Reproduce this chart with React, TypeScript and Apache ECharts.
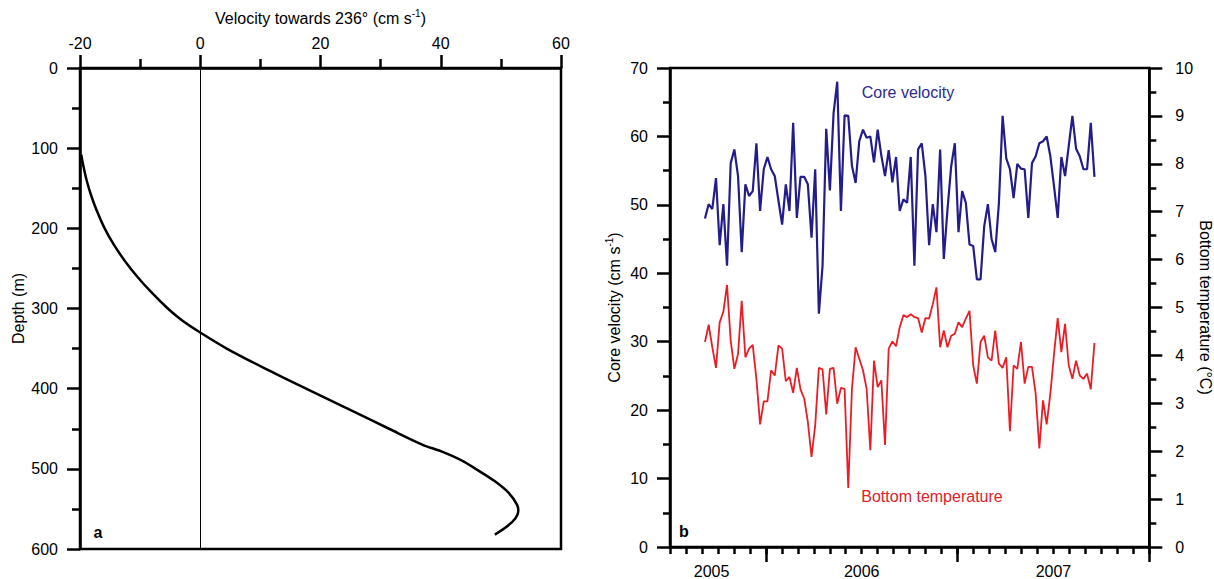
import React, { useEffect, useRef } from "react";
import * as echarts from "echarts";

// ---------- Panel a: velocity profile ----------
const profileDepth = [108, 120, 140, 160, 180, 200, 220, 240, 260, 280, 300, 315, 330, 350, 375, 400, 425, 450, 470, 478, 490, 500, 515, 530, 545, 553, 562, 572, 582];
const profileVelocity = [-19.8, -19.5, -18.9, -18.1, -17.1, -15.9, -14.4, -12.6, -10.5, -8.1, -5.4, -3.0, 0.0, 4.4, 10.8, 17.6, 24.5, 31.4, 37.0, 40.0, 43.6, 45.8, 48.9, 51.3, 52.7, 52.9, 52.4, 51.0, 49.0];

// ---------- Panel b: weekly time series ----------
const firstWeek = [2005, 8, 7]; // 7 Sep 2005 (month index 0-based)
const coreVelocity = [
  48.0, 50.1, 49.4, 53.9, 44.1, 50.1, 41.1, 56.1, 58.1, 54.2,
  43.1, 53.0, 51.3, 52.0, 59.0, 49.1, 55.2, 57.0, 55.2, 54.2,
  50.6, 47.1, 53.0, 49.1, 62.0, 48.1, 54.1, 54.1, 53.0, 45.2,
  55.2, 34.1, 41.1, 61.1, 52.1, 63.4, 68.0, 49.1, 63.1, 63.0,
  55.7, 53.2, 59.3, 61.0, 59.8, 60.0, 56.2, 61.0, 57.2, 54.2,
  58.0, 53.3, 57.0, 49.1, 50.8, 50.3,
  57.0, 41.1, 58.1, 59.0, 54.2, 44.1, 50.1, 46.0, 58.1, 42.1,
  49.3, 55.6, 59.0, 46.0, 52.0, 50.3, 44.2, 44.0, 39.1, 39.1,
  46.9, 50.1, 45.0, 43.1, 50.3, 63.0, 56.8, 55.2, 51.0, 56.0,
  55.3, 55.2, 48.1, 56.1, 57.1, 59.0, 59.3, 60.0, 57.1, 52.7,
  48.1, 57.0, 54.2, 58.6, 63.0, 58.2, 57.1, 55.2, 55.2, 62.0, 54.1,
];
const bottomTemperature = [
  4.28, 4.64, 4.17, 3.74, 4.69, 4.91, 5.47, 4.31, 3.72, 4.03,
  5.14, 3.96, 4.14, 4.22, 3.51, 2.56, 3.04, 3.04, 3.69, 3.58,
  4.21, 4.14, 3.46, 3.55, 3.22, 3.74, 3.29, 3.10, 2.61, 1.88,
  2.54, 3.74, 3.71, 2.77, 3.72, 3.74, 2.99, 3.32, 3.30, 1.23,
  3.30, 4.17, 3.93, 3.69, 3.30, 2.02, 3.89, 3.34, 3.48, 2.13,
  4.14, 4.29, 4.19, 4.59, 4.84, 4.80,
  4.86, 4.80, 4.78, 4.48, 4.78, 4.77, 5.07, 5.42, 4.17, 4.52,
  4.17, 4.41, 4.45, 4.69, 4.59, 4.77, 4.93, 3.79, 3.41, 4.28,
  4.41, 3.96, 3.89, 4.52, 3.83, 3.74, 3.96, 2.42, 3.79, 3.72,
  4.28, 3.41, 3.76, 3.76, 3.20, 2.06, 3.06, 2.56, 3.20, 4.03,
  4.78, 4.07, 4.66, 3.79, 3.51, 3.89, 3.58, 3.51, 3.62, 3.29, 4.26,
];
// time axis expressed in months relative to 1 Jan 2006
const axisStartMonth = -6; // 1 Jul 2005
const axisEndMonth = 24; // 1 Jan 2008
const yearBoundaryMonths = [0, 12, 24];
const yearLabels = ["2005", "2006", "2007"];
const yearLabelMonths = [-3.4, 6, 18];

const FONT = "'Liberation Sans', Arial, Helvetica, sans-serif";
const NAVY = "#231d8c";
const RED = "#ec1c24";

export default function App() {
  const ref = useRef<HTMLDivElement>(null);

  useEffect(() => {
    if (!ref.current) return;
    const chart = echarts.init(ref.current, undefined, { renderer: "svg" });

    const DAY = 86400000;
    const MONTH = (365.25 / 12) * DAY;
    const ref2006 = Date.UTC(2006, 0, 1);
    const t0 = Date.UTC(firstWeek[0], firstWeek[1], firstWeek[2]);
    const weekX = coreVelocity.map((_, i) => (t0 + i * 7 * DAY - ref2006) / MONTH);

    const velData = coreVelocity.map((v, i) => [weekX[i], v]);
    const tempData = bottomTemperature.map((v, i) => [weekX[i], v]);
    const profileData = profileDepth.map((d, i) => [profileVelocity[i], d]);

    const axisLine = { show: true, onZero: false, lineStyle: { color: "#000", width: 2.5 } };
    const tickStyle = { color: "#000", width: 2.5 };
    const label = { color: "#000", fontSize: 16, fontFamily: FONT };
    const supRich = {
      sup: { fontSize: 10, fontFamily: FONT, color: "#000", verticalAlign: "top", lineHeight: 10 },
    };

    const option: any = {
      animation: false,
      backgroundColor: "#fff",
      grid: [
        { left: 80, top: 68, width: 481, height: 481, show: true, borderColor: "#000", borderWidth: 2.5, backgroundColor: "transparent" },
        { left: 670, top: 68, width: 480, height: 481, show: true, borderColor: "#000", borderWidth: 2.5, backgroundColor: "transparent" },
      ],
      xAxis: [
        {
          gridIndex: 0,
          type: "value",
          position: "top",
          min: -20,
          max: 60,
          interval: 20,
          axisLine,
          axisTick: { show: true, length: 13, lineStyle: tickStyle },
          minorTick: { show: true, splitNumber: 2, length: 9, lineStyle: tickStyle },
          splitLine: { show: false },
          minorSplitLine: { show: false },
          axisLabel: { ...label, margin: 17 },
          name: "Velocity towards 236° (cm s{sup|-1})",
          nameLocation: "middle",
          nameGap: 40,
          nameTextStyle: { ...label, lineHeight: 20, rich: supRich },
        },
        {
          gridIndex: 1,
          type: "value",
          position: "bottom",
          min: axisStartMonth,
          max: axisEndMonth,
          interval: 1,
          axisLine,
          axisTick: { show: true, length: 7, lineStyle: tickStyle },
          splitLine: { show: false },
          axisLabel: {
            ...label,
            margin: 16,
            customValues: yearLabelMonths,
            formatter: (v: number) => {
              const k = yearLabelMonths.findIndex((m) => Math.abs(m - v) < 1e-6);
              return k >= 0 ? yearLabels[k] : "";
            },
          },
        },
        {
          gridIndex: 1,
          type: "value",
          position: "bottom",
          min: axisStartMonth,
          max: axisEndMonth,
          axisLine: { show: false, onZero: false },
          axisTick: { show: true, length: 15, lineStyle: tickStyle, customValues: yearBoundaryMonths },
          axisLabel: { show: false },
          splitLine: { show: false },
        },
      ],
      yAxis: [
        {
          gridIndex: 0,
          type: "value",
          inverse: true,
          min: 0,
          max: 600,
          interval: 100,
          axisLine,
          axisTick: { show: true, length: 13, lineStyle: tickStyle },
          minorTick: { show: true, splitNumber: 2, length: 8, lineStyle: tickStyle },
          splitLine: { show: false },
          minorSplitLine: { show: false },
          axisLabel: { ...label, margin: 22 },
          name: "Depth (m)",
          nameLocation: "middle",
          nameGap: 54,
          nameRotate: 90,
          nameTextStyle: { ...label },
        },
        {
          gridIndex: 1,
          type: "value",
          position: "left",
          min: 0,
          max: 70,
          interval: 10,
          axisLine,
          axisTick: { show: true, length: 13, lineStyle: tickStyle },
          minorTick: { show: true, splitNumber: 2, length: 7, lineStyle: tickStyle },
          splitLine: { show: false },
          minorSplitLine: { show: false },
          axisLabel: { ...label, margin: 22 },
          name: "Core velocity (cm s{sup|-1})",
          nameLocation: "middle",
          nameGap: 46,
          nameRotate: 90,
          nameTextStyle: { ...label, lineHeight: 20, rich: supRich },
        },
        {
          gridIndex: 1,
          type: "value",
          position: "right",
          min: 0,
          max: 10,
          interval: 1,
          axisLine,
          axisTick: { show: true, length: 13, lineStyle: tickStyle },
          minorTick: { show: true, splitNumber: 2, length: 7, lineStyle: tickStyle },
          splitLine: { show: false },
          minorSplitLine: { show: false },
          axisLabel: { ...label, margin: 26 },
          name: "Bottom temperature (°C)",
          nameLocation: "middle",
          nameGap: 40,
          nameRotate: -90,
          nameTextStyle: { ...label },
        },
      ],
      series: [
        {
          type: "line",
          xAxisIndex: 0,
          yAxisIndex: 0,
          data: profileData,
          smooth: 0.3,
          showSymbol: false,
          lineStyle: { color: "#000", width: 2.5 },
          silent: true,
          markLine: {
            silent: true,
            symbol: "none",
            label: { show: false },
            lineStyle: { color: "#000", width: 1, type: "solid" },
            data: [{ xAxis: 0 }],
          },
        },
        {
          type: "line",
          xAxisIndex: 1,
          yAxisIndex: 1,
          data: velData,
          showSymbol: false,
          lineStyle: { color: NAVY, width: 2.2 },
          silent: true,
        },
        {
          type: "line",
          xAxisIndex: 1,
          yAxisIndex: 2,
          data: tempData,
          showSymbol: false,
          lineStyle: { color: RED, width: 1.8 },
          silent: true,
        },
      ],
      graphic: [
        { type: "text", x: 98, y: 532, style: { text: "a", fontSize: 16, fontWeight: "bold", fontFamily: FONT, fill: "#000", align: "center", verticalAlign: "middle" } },
        { type: "text", x: 684, y: 531, style: { text: "b", fontSize: 16, fontWeight: "bold", fontFamily: FONT, fill: "#000", align: "center", verticalAlign: "middle" } },
        { type: "text", x: 908, y: 92, style: { text: "Core velocity", fontSize: 16, fontFamily: FONT, fill: "#2e2a92", align: "center", verticalAlign: "middle" } },
        { type: "text", x: 932, y: 496, style: { text: "Bottom temperature", fontSize: 16, fontFamily: FONT, fill: "#e3202a", align: "center", verticalAlign: "middle" } },
      ],
    };

    chart.setOption(option);
    return () => chart.dispose();
  }, []);

  return (
    <div
      ref={ref}
      style={{ position: "fixed", left: 0, top: 0, width: 1214, height: 579, background: "#fff" }}
    />
  );
}
